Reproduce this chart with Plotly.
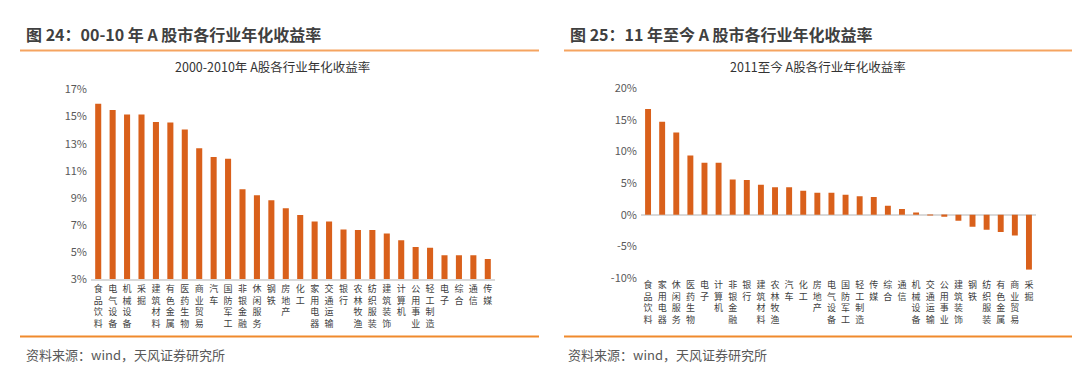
import plotly.graph_objects as go

# ---- data ----
cats_left = ["食品饮料", "电气设备", "机械设备", "采掘", "建筑材料", "有色金属", "医药生物",
             "商业贸易", "汽车", "国防军工", "非银金融", "休闲服务", "钢铁", "房地产", "化工",
             "家用电器", "交通运输", "银行", "农林牧渔", "纺织服装", "建筑装饰", "计算机",
             "公用事业", "轻工制造", "电子", "综合", "通信", "传媒"]
vals_left = [15.94, 15.48, 15.15, 15.15, 14.60, 14.56, 14.04, 12.66, 12.02, 11.90, 9.65, 9.20,
             8.83, 8.24, 7.75, 7.28, 7.28, 6.69, 6.64, 6.64, 6.39, 5.89, 5.40, 5.33, 4.79, 4.79,
             4.79, 4.50]

cats_right = ["食品饮料", "家用电器", "休闲服务", "医药生物", "电子", "计算机", "非银金融", "银行",
              "建筑材料", "农林牧渔", "汽车", "化工", "房地产", "电气设备", "国防军工", "轻工制造",
              "传媒", "综合", "通信", "机械设备", "交通运输", "公用事业", "建筑装饰", "钢铁",
              "纺织服装", "有色金属", "商业贸易", "采掘"]
vals_right = [16.77, 14.75, 13.03, 9.40, 8.24, 8.24, 5.60, 5.50, 4.75, 4.35, 4.35, 3.79, 3.48,
              3.48, 3.18, 2.94, 2.83, 1.42, 0.91, 0.35, 0.03, -0.30, -0.95, -1.90, -2.36, -2.72,
              -3.27, -8.68]

left_ticks = [3, 5, 7, 9, 11, 13, 15, 17]
right_ticks = [-10, -5, 0, 5, 10, 15, 20]

title_left = "图 24：00-10 年 A 股市各行业年化收益率"
title_right = "图 25：11 年至今 A 股市各行业年化收益率"
sub_left = "2000-2010年 A股各行业年化收益率"
sub_right = "2011至今 A股各行业年化收益率"
source = "资料来源：wind，天风证券研究所"

BAR = "#D9601B"
W, H = 1080, 371
FONT = "Noto Sans CJK SC"


def vert(s):
    return "<br>".join(list(s))


def py(px):
    return 1 - px / H


fig = go.Figure()
fig.add_trace(go.Bar(x=cats_left, y=[v - 3 for v in vals_left], base=3, marker_color=BAR,
                     width=0.42, xaxis="x", yaxis="y", showlegend=False,
                     marker_line_width=0))
fig.add_trace(go.Bar(x=cats_right, y=vals_right, marker_color=BAR, width=0.42,
                     xaxis="x2", yaxis="y2", showlegend=False, marker_line_width=0))

tickfont = dict(family=FONT, size=11, color="#595959")
catfont = dict(family=FONT, size=9, color="#404040")

fig.update_layout(
    width=W, height=H,
    margin=dict(l=0, r=0, t=0, b=0),
    paper_bgcolor="white", plot_bgcolor="white",
    xaxis=dict(domain=[83 / W, 487 / W], anchor="y", tickmode="array",
               tickvals=cats_left, ticktext=[vert(c) for c in cats_left], tickangle=0,
               tickfont=catfont, showline=True, linecolor="#D9D9D9", linewidth=1.5,
               showgrid=False, ticks=""),
    yaxis=dict(domain=[py(274.3), py(75.7)], anchor="x", range=[3, 17], tickmode="array",
               tickvals=left_ticks, ticktext=[f"{t}%" for t in left_ticks],
               tickfont=tickfont, showgrid=False, zeroline=False, showline=False,
               ticks="", ticklabelstandoff=3),
    xaxis2=dict(domain=[633 / W, 1028 / W], anchor="y2", tickmode="array",
                tickvals=cats_right, ticktext=[vert(c) for c in cats_right], tickangle=0,
                tickfont=catfont, showline=False, showgrid=False, ticks=""),
    yaxis2=dict(domain=[py(272.7), py(74.7)], anchor="x2", range=[-10, 20], tickmode="array",
                tickvals=right_ticks, ticktext=[f"{t}%" for t in right_ticks],
                tickfont=tickfont, showgrid=False, zeroline=True, zerolinecolor="#D9D9D9",
                zerolinewidth=1.5, showline=False, ticks="", ticklabelstandoff=3),
)

anns = [
    dict(text=f"<b>{title_left}</b>", x=16 / W, y=py(18), xanchor="left", yanchor="middle",
         font=dict(family=FONT, size=16, color="#404040")),
    dict(text=f"<b>{title_right}</b>", x=560 / W, y=py(18), xanchor="left", yanchor="middle",
         font=dict(family=FONT, size=16, color="#404040")),
    dict(text=sub_left, x=264 / W, y=py(52), xanchor="center", yanchor="middle",
         font=dict(family=FONT, size=12.5, color="#333333")),
    dict(text=sub_right, x=810 / W, y=py(52), xanchor="center", yanchor="middle",
         font=dict(family=FONT, size=12.5, color="#333333")),
    dict(text=source, x=16 / W, y=py(353), xanchor="left", yanchor="middle",
         font=dict(family=FONT, size=13, color="#595959")),
    dict(text=source, x=558 / W, y=py(353), xanchor="left", yanchor="middle",
         font=dict(family=FONT, size=13, color="#595959")),
]
for a in anns:
    a.update(xref="paper", yref="paper", showarrow=False)
fig.update_layout(annotations=anns)

shapes = [
    dict(type="line", x0=12 / W, x1=531 / W, y0=py(35), y1=py(35), line=dict(color="#F5A460", width=2)),
    dict(type="line", x0=556 / W, x1=1, y0=py(35), y1=py(35), line=dict(color="#F5A460", width=2)),
    dict(type="line", x0=12 / W, x1=531 / W, y0=py(334), y1=py(334), line=dict(color="#F08A2C", width=2)),
    dict(type="line", x0=556 / W, x1=1, y0=py(334), y1=py(334), line=dict(color="#F08A2C", width=2)),
]
for s in shapes:
    s.update(xref="paper", yref="paper")
fig.update_layout(shapes=shapes)

fig.write_html("out.html")
